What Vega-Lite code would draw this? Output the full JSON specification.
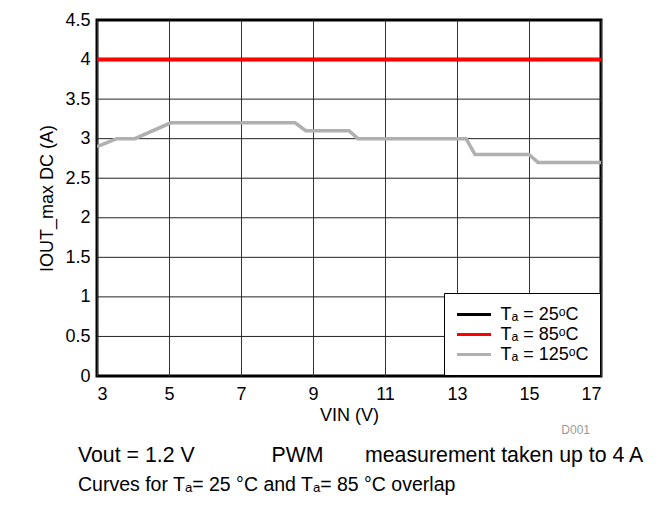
{
  "$schema": "https://vega.github.io/schema/vega-lite/v6.json",
  "autosize": {"type": "none"},
  "width": 504,
  "height": 356,
  "padding": {"left": 97, "top": 20, "right": 68, "bottom": 131},
  "background": "white",
  "config": {
    "font": "Liberation Sans",
    "view": {"stroke": "#000000", "strokeWidth": 3},
    "axis": {
      "labelFont": "Liberation Sans",
      "titleFont": "Liberation Sans",
      "labelFontSize": 18,
      "titleFontSize": 18,
      "titleFontWeight": "normal",
      "labelColor": "#000000",
      "titleColor": "#000000",
      "ticks": false,
      "domain": false,
      "labelOverlap": false,
      "gridColor": "#333333",
      "gridWidth": 1,
      "gridOpacity": 1
    },
    "legend": {
      "labelFont": "Liberation Sans",
      "labelFontSize": 18,
      "labelColor": "#000000"
    }
  },
  "title": {
    "text": "Vout = 1.2 V\u00a0\u00a0\u00a0\u00a0\u00a0\u00a0\u00a0\u00a0\u00a0\u00a0\u00a0\u00a0\u00a0PWM\u00a0\u00a0\u00a0\u00a0\u00a0\u00a0\u00a0measurement taken up to 4 A",
    "subtitle": "Curves for Tₐ= 25 °C and Tₐ= 85 °C overlap",
    "orient": "bottom",
    "anchor": "start",
    "frame": "group",
    "dx": -19,
    "offset": 9,
    "font": "Liberation Sans",
    "fontSize": 21.3,
    "fontWeight": "normal",
    "color": "#000000",
    "subtitleFont": "Liberation Sans",
    "subtitleFontSize": 19.5,
    "subtitleColor": "#000000",
    "subtitlePadding": 10
  },
  "layer": [
    {
      "data": {
        "values": [
          {"level": 0.5}, {"level": 1}, {"level": 1.5}, {"level": 2},
          {"level": 2.5}, {"level": 3}, {"level": 3.5}, {"level": 4}
        ]
      },
      "mark": {"type": "rule", "color": "#222222", "strokeWidth": 1},
      "encoding": {
        "y": {
          "field": "level",
          "type": "quantitative",
          "scale": {"domain": [0, 4.5], "nice": false},
          "axis": {
            "title": "IOUT_max DC (A)",
            "tickCount": 9,
            "labelExpr": "datum.value",
            "grid": false,
            "labelPadding": 7,
            "titlePadding": 8
          }
        }
      }
    },
    {
      "data": {
        "values": [
          {"vin": 3, "iout": 4.0, "series": "Tₐ = 25ᵒC"},
          {"vin": 17, "iout": 4.0, "series": "Tₐ = 25ᵒC"},
          {"vin": 3, "iout": 4.0, "series": "Tₐ = 85ᵒC"},
          {"vin": 17, "iout": 4.0, "series": "Tₐ = 85ᵒC"},
          {"vin": 3, "iout": 2.9, "series": "Tₐ = 125ᵒC"},
          {"vin": 3.55, "iout": 3.0, "series": "Tₐ = 125ᵒC"},
          {"vin": 4.05, "iout": 3.0, "series": "Tₐ = 125ᵒC"},
          {"vin": 5.05, "iout": 3.2, "series": "Tₐ = 125ᵒC"},
          {"vin": 8.5, "iout": 3.2, "series": "Tₐ = 125ᵒC"},
          {"vin": 8.8, "iout": 3.1, "series": "Tₐ = 125ᵒC"},
          {"vin": 10.0, "iout": 3.1, "series": "Tₐ = 125ᵒC"},
          {"vin": 10.25, "iout": 3.0, "series": "Tₐ = 125ᵒC"},
          {"vin": 13.25, "iout": 3.0, "series": "Tₐ = 125ᵒC"},
          {"vin": 13.5, "iout": 2.8, "series": "Tₐ = 125ᵒC"},
          {"vin": 15.0, "iout": 2.8, "series": "Tₐ = 125ᵒC"},
          {"vin": 15.25, "iout": 2.7, "series": "Tₐ = 125ᵒC"},
          {"vin": 17, "iout": 2.7, "series": "Tₐ = 125ᵒC"}
        ]
      },
      "mark": {"type": "line", "strokeWidth": 3.5, "clip": true},
      "encoding": {
        "x": {
          "field": "vin",
          "type": "quantitative",
          "scale": {"domain": [3, 17], "nice": false, "zero": false},
          "axis": {
            "title": "VIN (V)",
            "values": [3, 5, 7, 9, 11, 13, 15, 17],
            "labelPadding": 9,
            "titlePadding": 3
          }
        },
        "y": {
          "field": "iout",
          "type": "quantitative",
          "scale": {"domain": [0, 4.5], "nice": false},
          "axis": {
            "title": "IOUT_max DC (A)",
            "tickCount": 9,
            "labelExpr": "datum.value",
            "grid": false,
            "labelPadding": 7,
            "titlePadding": 8
          }
        },
        "color": {
          "field": "series",
          "type": "nominal",
          "sort": ["Tₐ = 25ᵒC", "Tₐ = 85ᵒC", "Tₐ = 125ᵒC"],
          "scale": {
            "domain": ["Tₐ = 25ᵒC", "Tₐ = 85ᵒC", "Tₐ = 125ᵒC"],
            "range": ["#000000", "#ff0000", "#b0b0b0"]
          },
          "legend": {
            "title": null,
            "orient": "bottom-right",
            "offset": 1,
            "symbolType": "M-2,0H2",
            "symbolStrokeWidth": 3,
            "symbolSize": 290,
            "symbolOffset": 8.5,
            "labelOffset": 16,
            "rowPadding": 0,
            "padding": 11,
            "strokeColor": "#000000",
            "fillColor": "#ffffff"
          }
        }
      }
    },
    {
      "data": {"values": [{"code": "D001"}]},
      "mark": {"type": "text", "align": "right", "baseline": "middle", "dx": -11, "dy": 54, "fontSize": 12, "color": "#999999", "font": "Liberation Sans"},
      "encoding": {
        "x": {"datum": 17},
        "y": {"datum": 0},
        "text": {"field": "code"}
      }
    }
  ]
}
